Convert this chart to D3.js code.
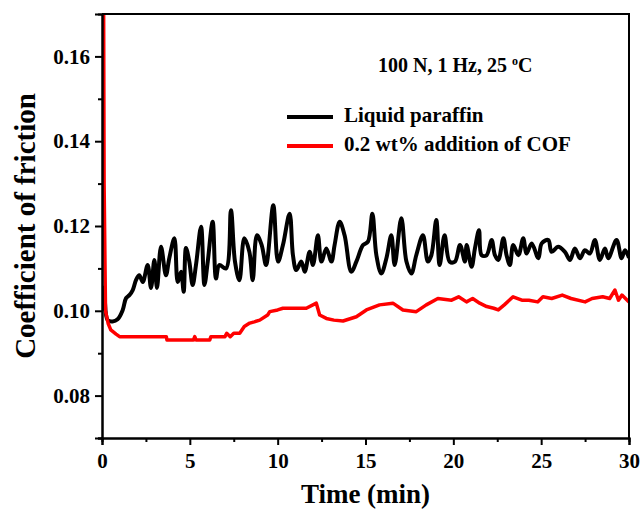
<!DOCTYPE html>
<html>
<head>
<meta charset="utf-8">
<script src="https://cdn.jsdelivr.net/npm/d3@7"></script>
<style>
  body { margin: 0; background: #fff; }
  text { font-family: "Liberation Serif", "Times New Roman", serif; font-weight: bold; }
</style>
</head>
<body>
<div id="chart"></div>
<script>
// time (min) and coefficient of friction
const paraffinTime = [0, 0.05, 0.14, 0.32, 0.6, 0.89, 1.18, 1.37, 1.56, 1.75, 1.94, 2.12, 2.32, 2.6, 2.79, 2.98, 3.13, 3.36, 3.64, 3.83, 4.12, 4.31, 4.5, 4.65, 4.78, 4.97, 5.16, 5.35, 5.64, 5.83, 6.02, 6.3, 6.49, 6.68, 7.06, 7.34, 7.57, 7.82, 8.1, 8.39, 8.58, 8.82, 9.09, 9.34, 9.75, 10.02, 10.3, 10.68, 10.87, 11.06, 11.35, 11.54, 11.82, 12.01, 12.29, 12.49, 12.77, 13.06, 13.24, 13.53, 13.81, 14.19, 14.48, 14.86, 15.14, 15.39, 15.62, 15.9, 16.19, 16.47, 16.66, 17.04, 17.33, 17.61, 17.89, 18.27, 18.55, 18.75, 19.03, 19.22, 19.5, 19.79, 20.09, 20.38, 20.66, 20.76, 21.04, 21.23, 21.46, 21.61, 21.89, 22.18, 22.37, 22.56, 22.85, 23.03, 23.22, 23.41, 23.7, 23.98, 24.17, 24.46, 24.84, 25.03, 25.41, 25.59, 25.97, 26.35, 26.64, 26.92, 27.21, 27.49, 27.77, 28.06, 28.34, 28.63, 28.82, 29.29, 29.58, 29.77, 30];
const paraffinCof = [0.100, 0.1055, 0.1035, 0.0978, 0.0975, 0.0980, 0.1002, 0.1030, 0.1037, 0.1049, 0.1073, 0.1084, 0.1068, 0.1108, 0.1054, 0.1120, 0.1054, 0.1151, 0.1084, 0.1124, 0.1171, 0.1068, 0.1092, 0.1045, 0.1148, 0.1116, 0.1061, 0.1108, 0.1198, 0.1061, 0.1116, 0.1210, 0.1076, 0.1108, 0.1100, 0.1237, 0.1116, 0.1072, 0.1171, 0.1139, 0.1072, 0.1178, 0.1155, 0.1108, 0.1249, 0.1116, 0.1155, 0.1229, 0.1131, 0.1096, 0.1116, 0.1092, 0.1139, 0.1108, 0.1178, 0.1116, 0.1147, 0.1116, 0.1155, 0.1210, 0.1178, 0.1092, 0.1116, 0.1155, 0.1163, 0.1229, 0.1131, 0.1088, 0.1124, 0.1178, 0.1108, 0.1218, 0.1116, 0.1088, 0.1131, 0.1178, 0.1116, 0.1131, 0.1214, 0.1108, 0.1178, 0.1116, 0.1116, 0.1155, 0.1116, 0.1155, 0.1104, 0.1147, 0.1190, 0.1131, 0.1131, 0.1167, 0.1131, 0.1120, 0.1171, 0.1131, 0.1108, 0.1155, 0.1131, 0.1171, 0.1135, 0.1159, 0.1124, 0.1159, 0.1167, 0.1139, 0.1151, 0.1139, 0.1120, 0.1147, 0.1124, 0.1143, 0.1135, 0.1167, 0.1120, 0.1147, 0.1124, 0.1167, 0.1124, 0.1143, 0.1125];

const cofTime = [0.08, 0.12, 0.2, 0.35, 0.5, 0.8, 1.0, 3.66, 3.7, 5.2, 5.28, 5.36, 6.13, 6.2, 7.0, 7.1, 7.3, 7.5, 7.84, 8.1, 8.41, 8.67, 8.98, 9.43, 9.55, 10.0, 10.3, 11.0, 11.63, 12.2, 12.39, 12.77, 13.2, 13.72, 14.48, 15.05, 15.8, 16.56, 17.13, 17.89, 18.46, 19.12, 19.9, 20.3, 20.75, 21.1, 21.5, 21.9, 22.3, 22.56, 22.9, 23.4, 23.9, 24.3, 24.8, 25.1, 25.6, 26.2, 26.7, 27.5, 27.9, 28.5, 28.9, 29.2, 29.4, 29.6, 30];
const cofValue = [0.19, 0.13, 0.100, 0.0970, 0.0955, 0.0945, 0.0939, 0.0939, 0.0931, 0.0931, 0.0939, 0.0931, 0.0931, 0.0939, 0.0939, 0.0947, 0.0939, 0.0947, 0.0947, 0.0963, 0.0971, 0.0974, 0.0978, 0.0990, 0.0998, 0.1002, 0.1006, 0.1006, 0.1006, 0.1018, 0.0990, 0.0982, 0.0978, 0.0976, 0.0986, 0.1002, 0.1014, 0.1018, 0.1002, 0.0998, 0.1014, 0.1029, 0.1025, 0.1033, 0.1021, 0.1029, 0.1018, 0.1010, 0.1006, 0.1002, 0.1014, 0.1033, 0.1025, 0.1025, 0.1021, 0.1033, 0.1029, 0.1037, 0.1029, 0.1021, 0.1029, 0.1033, 0.1029, 0.1049, 0.1025, 0.1037, 0.1021];

const seriesNames = ["Liquid paraffin", "0.2 wt% addition of COF"];
const seriesColors = ["#000000", "#ff0000"];
const xTicks = [0, 5, 10, 15, 20, 25, 30];
const yTicks = [0.08, 0.10, 0.12, 0.14, 0.16];

const W = 644, H = 513;
const margin = { top: 14, right: 15, bottom: 75, left: 102 };
const width = W - margin.left - margin.right;
const height = H - margin.top - margin.bottom;

const svg = d3.select("#chart").append("svg")
    .attr("width", W)
    .attr("height", H);

const g = svg.append("g")
    .attr("transform", `translate(${margin.left},${margin.top})`);

const x = d3.scaleLinear().domain([0, 30]).range([0, width]);
const y = d3.scaleLinear().domain([0.07, 0.17]).range([height, 0]);

// clip so the start-up spike is cut at the frame
g.append("clipPath").attr("id", "plotclip")
  .append("rect").attr("width", width).attr("height", height);

const smooth = d3.line().curve(d3.curveCatmullRom.alpha(0.5)).x(d => x(d[0])).y(d => y(d[1]));
const line = d3.line().x(d => x(d[0])).y(d => y(d[1]));

const paraffin = paraffinTime.map((t, i) => [t, paraffinCof[i]]);
const cof = cofTime.map((t, i) => [t, cofValue[i]]);

const plot = g.append("g").attr("clip-path", "url(#plotclip)");
plot.append("path").datum(paraffin)
    .attr("fill", "none").attr("stroke", seriesColors[0])
    .attr("stroke-width", 4).attr("stroke-linejoin", "round")
    .attr("d", smooth);
plot.append("path").datum(cof)
    .attr("fill", "none").attr("stroke", seriesColors[1])
    .attr("stroke-width", 3.5).attr("stroke-linejoin", "round")
    .attr("d", line);

// axes: major ticks outward, minor ticks shorter
g.append("g").attr("transform", `translate(0,${height})`)
    .call(d3.axisBottom(x).tickValues(xTicks).tickSize(7).tickPadding(8).tickFormat(d3.format("d")));
g.append("g").attr("transform", `translate(0,${height})`)
    .call(d3.axisBottom(x).tickValues(d3.range(2.5, 30, 5)).tickSize(4).tickFormat(""));

g.append("g")
    .call(d3.axisLeft(y).tickValues(yTicks).tickSize(7).tickPadding(5).tickFormat(d3.format(".2f")));
g.append("g")
    .call(d3.axisLeft(y).tickValues([0.07, 0.09, 0.11, 0.13, 0.15]).tickSize(4).tickFormat(""));

g.selectAll(".domain").attr("stroke", "#000").attr("stroke-width", 2);
g.selectAll(".tick line").attr("stroke", "#000").attr("stroke-width", 2);
g.selectAll(".tick text").attr("fill", "#000").style("font-size", "21px")
    .style("font-family", "'Liberation Serif', 'Times New Roman', serif").style("font-weight", "bold");

// top and right frame
g.append("path")
    .attr("d", `M0,0H${width}V${height}`)
    .attr("fill", "none").attr("stroke", "#000").attr("stroke-width", 2);

// axis titles
g.append("text")
    .attr("x", width / 2).attr("y", height + 65)
    .attr("text-anchor", "middle")
    .style("font-size", "27px")
    .text("Time (min)");

g.append("text")
    .attr("transform", `translate(${35 - margin.left},${height / 2}) rotate(-90)`)
    .attr("text-anchor", "middle")
    .style("font-size", "29px")
    .text("Coefficient of friction");

// test conditions
const cond = svg.append("text").attr("x", 378).attr("y", 72).style("font-size", "20px");
cond.append("tspan").text("100 N, 1 Hz, 25 ");
cond.append("tspan").attr("dy", -7).style("font-size", "12px").text("o");
cond.append("tspan").attr("dy", 7).text("C");

// legend
const legend = svg.append("g").attr("transform", "translate(287,117)");
seriesNames.forEach((name, i) => {
    legend.append("line")
        .attr("x1", 0).attr("x2", 46)
        .attr("y1", i * 29).attr("y2", i * 29)
        .attr("stroke", seriesColors[i]).attr("stroke-width", 4);
    legend.append("text")
        .attr("x", 57).attr("y", i * 29 + 5)
        .style("font-size", "21px")
        .text(name);
});
</script>
</body>
</html>
